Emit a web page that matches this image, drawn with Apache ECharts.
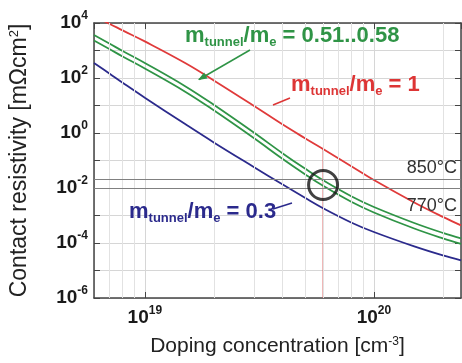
<!DOCTYPE html>
<html>
<head>
<meta charset="utf-8">
<script src="https://cdn.jsdelivr.net/npm/echarts@6/dist/echarts.min.js"></script>
<style>
html, body { margin: 0; padding: 0; background: #fff; }
#main { width: 462px; height: 363px; }
</style>
</head>
<body>
<div id="main"></div>
<script>
// doping concentration [cm^-3]
var doping = [6e18, 7e18, 8e18, 1e19, 1.5e19, 2e19, 3e19, 4e19, 5e19, 6e19, 8e19, 1e20, 1.5e20, 2e20, 2.4e20];

// contact resistivity [mOhm cm^2]
var rhoM1 = [17500, 9430, 5380, 2140, 351, 81.8, 9.59, 2.02, 0.647, 0.262, 0.061, 0.0195, 2.99e-3, 8.9e-4, 4.37e-4];
var rhoM058 = [3660, 1800, 960, 351, 50.4, 10.6, 1.02, 0.181, 0.0507, 0.019, 4.9e-3, 2.04e-3, 5.34e-4, 2.33e-4, 1.48e-4];
var rhoM051 = [2306, 1134, 605, 221, 31.8, 6.68, 0.643, 0.114, 0.0319, 0.012, 3.09e-3, 1.29e-3, 3.36e-4, 1.47e-4, 9.3e-5];
var rhoM03 = [351, 146, 67.5, 19.2, 2.11, 0.455, 0.057, 0.0133, 4.4e-3, 1.84e-3, 5.47e-4, 2.51e-4, 7.52e-5, 3.54e-5, 2.35e-5];

// marked doping level and the annealing lines
var markN = 6e19;
var markTop = 0.262;
var markRho = 0.0129;
var tempRho = [0.0166, 0.0111];
var tempLabels = ['850°C', '770°C'];

// axes
var xMin = 6e18, xMax = 2.4e20;
var yMin = 1e-6, yMax = 1e4;
var yLabelExps = [4, 2, 0, -2, -4, -6];
var xMinorTicks = [7e18, 8e18, 9e18, 2e19, 3e19, 4e19, 5e19, 6e19, 7e19, 8e19, 9e19, 2e20];

var FONT = 'Liberation Sans';
var RED = '#e03a3a', GREEN = '#2f9446', BLUE = '#2b2a8c';

var supRich = {
    b: { fontFamily: FONT, fontSize: 19, fontWeight: 'bold', color: '#1a1a1a', lineHeight: 26 },
    p: { fontFamily: FONT, fontSize: 12, fontWeight: 'bold', color: '#1a1a1a', lineHeight: 12, verticalAlign: 'top' }
};

function exponentOf(v) {
    var e = Math.log10(v);
    if (Math.abs(e - Math.round(e)) > 1e-3) return null;
    return Math.round(e);
}

function xLabel(v) {
    var e = exponentOf(v);
    return e === null ? '' : '{b|10}{p|' + e + '}';
}

function yLabel(v) {
    var e = exponentOf(v);
    if (e === null || yLabelExps.indexOf(e) < 0) return '';
    return '{b|10}{p|' + e + '}';
}

function pairs(ys) {
    return doping.map(function (n, i) { return [n, ys[i]]; });
}

// graphic text is zrender style: colour goes in fill
function massRich(color) {
    return {
        m: { fontFamily: FONT, fontSize: 22, fontWeight: 'bold', fill: color, lineHeight: 26 },
        s: { fontFamily: FONT, fontSize: 13, fontWeight: 'bold', fill: color, lineHeight: 8, verticalAlign: 'bottom' }
    };
}

function massText(val) {
    return '{m|m}{s|tunnel}{m|/m}{s|e}{m| = ' + val + '}';
}

var axisLine = { show: true, onZero: false, lineStyle: { color: '#444', width: 1.5 } };
var tick = { show: true, inside: true, length: 6, lineStyle: { color: '#444', width: 1 } };
var grid = { show: true, lineStyle: { color: '#d6d6d6', width: 1 } };

var chart = echarts.init(document.getElementById('main'));

chart.setOption({
    animation: false,
    backgroundColor: '#fff',
    grid: { left: 94, right: 1, top: 23, bottom: 65 },
    xAxis: [{
        type: 'log', logBase: 10, min: xMin, max: xMax, position: 'bottom',
        axisLine: axisLine, axisTick: tick, splitLine: grid,
        axisLabel: { formatter: xLabel, rich: supRich, margin: 7, showMinLabel: false, showMaxLabel: false },
        name: 'Doping concentration [cm{sup|-3}]', nameLocation: 'middle', nameGap: 38,
        nameTextStyle: {
            fontFamily: FONT, fontSize: 21, color: '#222',
            rich: { sup: { fontFamily: FONT, fontSize: 12, color: '#222', verticalAlign: 'top', lineHeight: 10 } }
        }
    }, {
        type: 'log', logBase: 10, min: xMin, max: xMax, position: 'top',
        axisLine: axisLine, axisTick: tick, axisLabel: { show: false }, splitLine: { show: false }
    }],
    yAxis: [{
        type: 'log', logBase: 10, min: yMin, max: yMax, interval: 1, splitNumber: 10, position: 'left',
        axisLine: axisLine, axisTick: tick, splitLine: grid,
        axisLabel: { formatter: yLabel, rich: supRich, margin: 6 },
        name: 'Contact resistivity [mΩcm{sup|2}]', nameLocation: 'middle', nameGap: 63,
        nameTextStyle: {
            fontFamily: FONT, fontSize: 23, color: '#222',
            rich: { sup: { fontFamily: FONT, fontSize: 13, color: '#222', verticalAlign: 'top', lineHeight: 10 } }
        }
    }, {
        type: 'log', logBase: 10, min: yMin, max: yMax, interval: 1, splitNumber: 10, position: 'right',
        axisLine: axisLine, axisTick: tick, axisLabel: { show: false }, splitLine: { show: false }
    }],
    series: [{
        // minor vertical grid
        type: 'line', data: [], z: 1, silent: true,
        markLine: {
            silent: true, symbol: 'none', label: { show: false },
            lineStyle: { color: '#e2e2e2', width: 1, type: 'solid' },
            data: xMinorTicks.map(function (v) { return { xAxis: v }; })
        }
    }, {
        // 850 / 770 °C levels
        type: 'line', data: [], z: 2, silent: true,
        markLine: {
            silent: true, symbol: 'none', animation: false,
            lineStyle: { color: '#808080', width: 1.2, type: 'solid' },
            data: tempRho.map(function (v, i) {
                return {
                    yAxis: v,
                    label: {
                        show: true, formatter: tempLabels[i],
                        position: i === 0 ? 'insideEndTop' : 'insideEndBottom',
                        distance: i === 0 ? [4, 3] : [4, 9],
                        fontFamily: FONT, fontSize: 18, color: '#333'
                    }
                };
            })
        }
    }, {
        type: 'line', data: [[markN, markTop], [markN, yMin]], symbol: 'none', z: 3,
        lineStyle: { color: '#d95555', width: 1 }
    }, {
        name: 'm=1', type: 'line', data: pairs(rhoM1), smooth: 0.4, symbol: 'none', z: 4,
        lineStyle: { color: RED, width: 1.8 }
    }, {
        name: 'm=0.58', type: 'line', data: pairs(rhoM058), smooth: 0.4, symbol: 'none', z: 4,
        lineStyle: { color: GREEN, width: 1.8 }
    }, {
        name: 'm=0.51', type: 'line', data: pairs(rhoM051), smooth: 0.4, symbol: 'none', z: 4,
        lineStyle: { color: GREEN, width: 1.8 }
    }, {
        name: 'm=0.3', type: 'line', data: pairs(rhoM03), smooth: 0.4, symbol: 'none', z: 4,
        lineStyle: { color: BLUE, width: 1.8 }
    }, {
        type: 'scatter', data: [[markN, markRho]], symbol: 'circle', symbolSize: 29, z: 6,
        itemStyle: { color: 'rgba(0,0,0,0)', borderColor: '#111', borderWidth: 3 }
    }],
    graphic: [
        { type: 'text', left: 185, top: 25, z: 10, style: { text: massText('0.51..0.58'), rich: massRich(GREEN) } },
        { type: 'text', left: 291, top: 74, z: 10, style: { text: massText('1'), rich: massRich('#dd3535') } },
        { type: 'text', left: 129, top: 201, z: 10, style: { text: massText('0.3'), rich: massRich(BLUE) } },
        { type: 'line', z: 10, shape: { x1: 250, y1: 50, x2: 199, y2: 79.5 }, style: { stroke: GREEN, lineWidth: 1.5 } },
        { type: 'polygon', z: 10, shape: { points: [[198, 80], [207.5, 78.5], [204.1, 72.5]] }, style: { fill: GREEN } },
        { type: 'line', z: 10, shape: { x1: 290, y1: 98, x2: 273, y2: 105 }, style: { stroke: '#dd3535', lineWidth: 1.5 } },
        { type: 'line', z: 10, shape: { x1: 273, y1: 209, x2: 292, y2: 203 }, style: { stroke: BLUE, lineWidth: 1.5 } }
    ]
});
</script>
</body>
</html>
